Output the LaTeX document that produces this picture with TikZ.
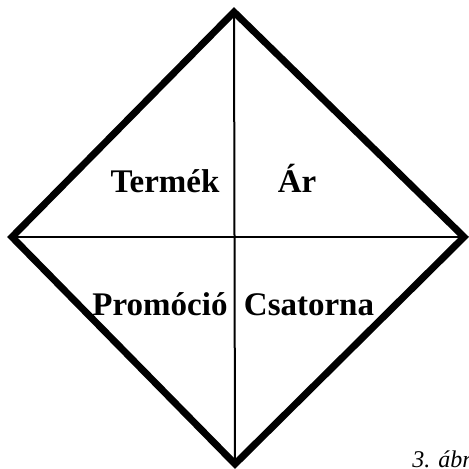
\documentclass[tikz,border=0pt]{standalone}
\usepackage{fontspec}
\setmainfont{Liberation Serif}
\begin{document}
\begin{tikzpicture}[x=0.5pt,y=-0.5pt,
  outline/.style={line width=3.5pt,line join=miter},
  cross/.style={line width=1pt},
  lbl/.style={font=\fontsize{16.5}{18}\selectfont\bfseries,inner sep=0pt},
  captxt/.style={font=\fontsize{12}{14}\selectfont\itshape,inner sep=0pt,anchor=base west}]
\useasboundingbox (0,0) rectangle (468,469);
\coordinate (T) at (234,12);
\coordinate (L) at (12,237);
\coordinate (R) at (464,237);
\coordinate (B) at (235,464);
\draw[cross] (T) -- (B);
\draw[cross] (L) -- (R);
\draw[outline] (T) -- (R) -- (B) -- (L) -- cycle;
\node[lbl,anchor=base] (termek) at (165,193) {Termék};
\node[lbl,anchor=base] (ar) at (297,193) {Ár};
\node[lbl,anchor=base] (promocio) at (160,315) {Promóció};
\node[lbl,anchor=base] (csatorna) at (309,315) {Csatorna};
\node[captxt] (caption) at (412,467) {3. ábra};
\end{tikzpicture}
\end{document}
